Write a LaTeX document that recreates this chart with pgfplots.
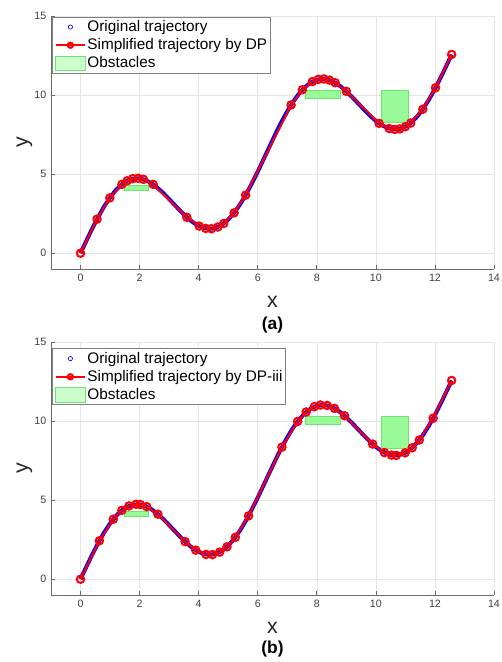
\documentclass[border=0pt]{standalone}
\usepackage{fontspec}
\setmainfont{Liberation Sans}
\usepackage{pgfplots}
\pgfplotsset{compat=1.18}
\usepackage{pgfplotstable}

\definecolor{obsfill}{rgb}{0.6,0.98,0.6}
\definecolor{obsedge}{rgb}{0.42,0.9,0.42}
\definecolor{obslegend}{rgb}{0.8,1,0.8}
\definecolor{axgray}{rgb}{0.42,0.42,0.42}

% original trajectory
\pgfplotstableread{
x y
0 0
0.2 0.796
0.4 1.568
0.6 2.294
0.8 2.952
1.0 3.524
1.2 3.996
1.4 4.356
1.6 4.599
1.8 4.722
2.0 4.728
2.2 4.626
2.4 4.426
2.6 4.147
2.8 3.805
3.0 3.423
3.2 3.025
3.4 2.633
3.6 2.272
3.8 1.964
4.0 1.730
4.2 1.585
4.4 1.545
4.6 1.619
4.8 1.812
5.0 2.123
5.2 2.550
5.4 3.082
5.6 3.706
5.8 4.406
6.0 5.162
6.2 5.951
6.4 6.750
6.6 7.535
6.8 8.282
7.0 8.971
7.2 9.581
7.4 10.096
7.6 10.504
7.8 10.796
8.0 10.968
8.2 11.022
8.4 10.964
8.6 10.803
8.8 10.555
9.0 10.236
9.2 9.869
9.4 9.474
9.6 9.077
9.8 8.701
10.0 8.368
10.2 8.100
10.4 7.917
10.6 7.832
10.8 7.857
11.0 8.000
11.2 8.262
11.4 8.642
11.6 9.132
11.8 9.719
12.0 10.390
12.2 11.125
12.4 11.903
12.566 12.566
}\orig

% simplified by DP
\pgfplotstableread{
x y
0 0
0.56 2.154
0.99 3.498
1.40 4.356
1.58 4.580
1.77 4.711
1.95 4.737
2.13 4.673
2.46 4.351
3.60 2.272
4.02 1.714
4.24 1.567
4.43 1.547
4.65 1.656
4.85 1.879
5.20 2.550
5.59 3.673
7.13 9.377
7.51 10.334
7.85 10.850
8.05 10.993
8.24 11.019
8.43 10.946
8.62 10.782
9.00 10.236
10.11 8.211
10.45 7.885
10.64 7.828
10.81 7.862
11.00 8.000
11.18 8.231
11.59 9.105
12.02 10.461
12.566 12.566
}\dpA

% simplified by DP-iii
\pgfplotstableread{
x y
0 0
0.64 2.432
1.11 3.797
1.40 4.356
1.64 4.633
1.88 4.739
2.02 4.723
2.24 4.594
2.62 4.114
3.54 2.377
3.90 1.837
4.25 1.565
4.47 1.556
4.71 1.710
4.96 2.050
5.24 2.647
5.69 4.005
6.82 8.355
7.35 9.977
7.64 10.572
7.92 10.913
8.12 11.015
8.35 10.989
8.60 10.803
8.94 10.337
9.89 8.546
10.29 8.008
10.53 7.849
10.69 7.829
10.99 7.990
11.23 8.312
11.47 8.801
11.94 10.181
12.566 12.566
}\dpB

\pgfplotsset{
  traj/.style={
    scale only axis, width=332.25pt, height=189.75pt,
    xmin=-1, xmax=14, ymin=-1, ymax=15,
    xtick={0,2,...,14}, ytick={0,5,10,15},
    axis x line*=bottom, axis y line*=left,
    every outer x axis line/.append style={-, draw=axgray, line width=0.6pt},
    every outer y axis line/.append style={-, draw=axgray, line width=0.6pt},
    tick align=inside, major tick length=3pt,
    tick style={draw=axgray, line width=0.5pt},
    grid=major, major grid style={draw=black!10, line width=0.4pt},
    ticklabel style={font=\fontsize{8}{9}\selectfont, text=black!75},
    /pgf/number format/assume math mode=true,
    xlabel={x}, ylabel={y},
    label style={font=\fontsize{16}{18}\selectfont, text=black!85},
    xlabel style={at={(axis description cs:0.5,-0.13)}, anchor=center},
    ylabel style={at={(axis description cs:-0.06,0.5)}, anchor=center},
    legend cell align=left,
    legend style={at={(axis description cs:0.003,0.997)}, anchor=north west,
      draw=black!50, line width=0.6pt, fill=white,
      font=\fontsize{11.5}{13}\selectfont, inner sep=1.5pt, row sep=1.8pt,
      nodes={inner sep=1pt}},
    clip=false,
  },
  origline/.style={blue, line width=3pt, line join=round,
    legend image code/.code={\draw[blue, line width=0.5pt] (11pt,0pt) circle (1.6pt);}},
  simpline/.style={red, line width=1.5pt, mark=o, mark size=2.8pt,
    mark options={line width=1.5pt, fill=none},
    legend image code/.code={\draw[red, line width=1.5pt] (0pt,0pt) -- (22pt,0pt);
      \draw[red, line width=1.5pt] (11pt,0pt) circle (2pt);}},
  obst/.style={fill=obsfill, draw=obsedge, line width=0.6pt,
    legend image code/.code={\draw[fill=obslegend, draw=obsedge, line width=0.6pt]
      (0pt,-5.5pt) rectangle (22pt,5.5pt);}},
}

\begin{document}
\begin{tikzpicture}
\path[use as bounding box] (0,0) rectangle (375.75pt,-496.5pt);

\begin{axis}[traj, at={(38.25pt,-201.75pt)}, anchor=south west]
\addplot[origline] table {\orig};
\addlegendentry{Original trajectory}
\addplot[simpline] table {\dpA};
\addlegendentry{Simplified trajectory by DP}
\addplot[obst] coordinates {(1.5,4.0) (2.3,4.0) (2.3,4.3) (1.5,4.3)} --cycle;
\addlegendentry{Obstacles}
\addplot[obst, forget plot] coordinates {(7.6,9.8) (8.8,9.8) (8.8,10.3) (7.6,10.3)} --cycle;
\addplot[obst, forget plot] coordinates {(10.2,8.3) (11.1,8.3) (11.1,10.3) (10.2,10.3)} --cycle;
\node[font=\bfseries\fontsize{13}{15}\selectfont] at (axis description cs:0.5,-0.22) {(a)};
\end{axis}

\begin{axis}[traj, at={(38.25pt,-446.25pt)}, anchor=south west,
  legend style={at={(axis description cs:0.003,0.975)}}]
\addplot[origline] table {\orig};
\addlegendentry{Original trajectory}
\addplot[simpline] table {\dpB};
\addlegendentry{Simplified trajectory by DP-iii}
\addplot[obst] coordinates {(1.5,4.0) (2.3,4.0) (2.3,4.3) (1.5,4.3)} --cycle;
\addlegendentry{Obstacles}
\addplot[obst, forget plot] coordinates {(7.6,9.8) (8.8,9.8) (8.8,10.3) (7.6,10.3)} --cycle;
\addplot[obst, forget plot] coordinates {(10.2,8.3) (11.1,8.3) (11.1,10.3) (10.2,10.3)} --cycle;
\node[font=\bfseries\fontsize{13}{15}\selectfont] at (axis description cs:0.5,-0.215) {(b)};
\end{axis}
\end{tikzpicture}
\end{document}
